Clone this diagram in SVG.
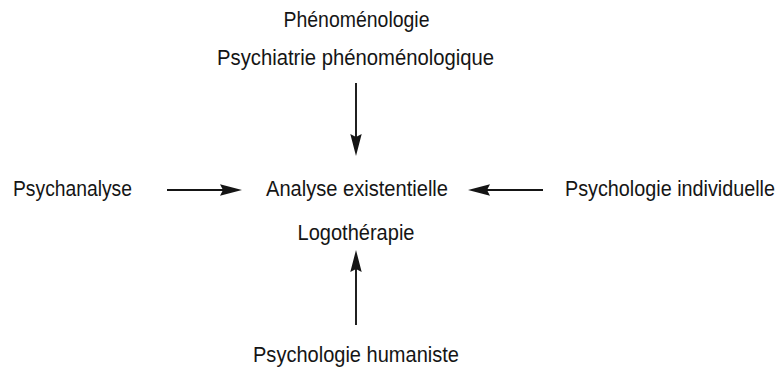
<svg xmlns="http://www.w3.org/2000/svg" width="780" height="368" viewBox="0 0 780 368">
  <style>
    text { font-family: "Liberation Sans", Arial, sans-serif; font-size: 22px; fill: #151515; }
    .mid { text-anchor: middle; }
    .conn { stroke: #151515; stroke-width: 1.9; fill: none; }
  </style>
  <defs>
    <marker id="arrow" viewBox="0 0 22 12" refX="6" refY="6" markerWidth="22" markerHeight="12" markerUnits="userSpaceOnUse" orient="auto">
      <path d="M0,0.3 L22,6 L0,11.7 L3,6 Z" fill="#151515"/>
    </marker>
  </defs>
  <rect width="780" height="368" fill="#ffffff"/>

  <g id="phenomenologie">
    <text class="mid" x="356.5" y="27" textLength="146" lengthAdjust="spacingAndGlyphs">Phénoménologie</text>
    <text class="mid" x="355.5" y="65" textLength="277" lengthAdjust="spacingAndGlyphs">Psychiatrie phénoménologique</text>
  </g>
  <g id="psychanalyse">
    <text x="13" y="196" textLength="119" lengthAdjust="spacingAndGlyphs">Psychanalyse</text>
  </g>
  <g id="analyse-existentielle">
    <text class="mid" x="357" y="196" textLength="182" lengthAdjust="spacingAndGlyphs">Analyse existentielle</text>
    <text class="mid" x="356" y="240" textLength="117" lengthAdjust="spacingAndGlyphs">Logothérapie</text>
  </g>
  <g id="psychologie-individuelle">
    <text transform="translate(565,196) scale(0.9,1)" x="0" y="0">Psychologie individuelle</text>
  </g>
  <g id="psychologie-humaniste">
    <text class="mid" x="356" y="362" textLength="206" lengthAdjust="spacingAndGlyphs">Psychologie humaniste</text>
  </g>

  <g id="connectors">
    <line class="conn" x1="167" y1="190" x2="226" y2="190" marker-end="url(#arrow)"/>
    <line class="conn" x1="543" y1="190" x2="484" y2="190" marker-end="url(#arrow)"/>
    <line class="conn" x1="356" y1="83" x2="356" y2="140" marker-end="url(#arrow)"/>
    <line class="conn" x1="356" y1="325" x2="356" y2="266" marker-end="url(#arrow)"/>
  </g>
</svg>
